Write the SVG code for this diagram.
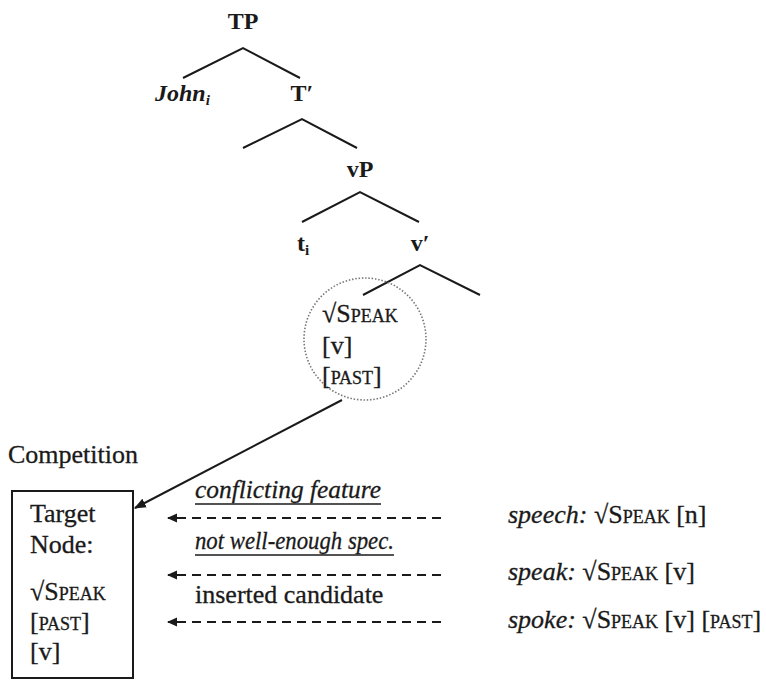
<svg xmlns="http://www.w3.org/2000/svg" width="766" height="680" viewBox="0 0 766 680">
<defs>
<style>
text{font-family:"Liberation Serif","Times New Roman",serif;font-size:26px;fill:#1a1a1a;stroke:#1a1a1a;stroke-width:0.3}
.lab{font-weight:bold;font-size:24px;stroke-width:0}
.it{font-style:italic}
.sc{font-variant:small-caps}
.br{stroke:#1a1a1a;stroke-width:2;fill:none}
.dash{stroke:#1a1a1a;stroke-width:2;stroke-dasharray:9 6;fill:none}
.ul{stroke:#1a1a1a;stroke-width:1.5}
</style>
<marker id="ah" viewBox="0 0 10 10" refX="9" refY="5" markerWidth="6" markerHeight="6" orient="auto" markerUnits="strokeWidth">
<path d="M0,1 L10,5 L0,9 Z" fill="#1a1a1a"/>
</marker>
<marker id="ahd" viewBox="0 0 10 10" refX="9" refY="5" markerWidth="5" markerHeight="5" orient="auto" markerUnits="strokeWidth">
<path d="M0,0.5 L10,5 L0,9.5 Z" fill="#1a1a1a"/>
</marker>
</defs>
<rect width="766" height="680" fill="#fff"/>

<g id="connectors">
<path class="br" d="M183,78 L243,48 L300,78"/>
<path class="br" d="M243,148 L302,119 L357,148"/>
<path class="br" d="M302,222 L360,192 L419,222"/>
<path class="br" d="M363,295 L420,265 L480,295"/>
<line x1="342" y1="400" x2="135" y2="508" stroke="#1a1a1a" stroke-width="2" marker-end="url(#ah)"/>
<line class="dash" x1="441" y1="518" x2="168" y2="518" marker-end="url(#ahd)"/>
<line class="dash" x1="441" y1="575" x2="168" y2="575" marker-end="url(#ahd)"/>
<line class="dash" x1="441" y1="622" x2="168" y2="622" marker-end="url(#ahd)"/>
</g>

<g id="TP"><text class="lab" x="243" y="29" text-anchor="middle">TP</text></g>
<g id="John"><text class="lab it" x="155" y="101">John<tspan font-size="15" dy="4">i</tspan></text></g>
<g id="Tbar"><text class="lab" x="302" y="101" text-anchor="middle">T′</text></g>
<g id="vP"><text class="lab" x="360" y="177" text-anchor="middle">vP</text></g>
<g id="ti"><text class="lab" x="297" y="251">t<tspan font-size="15" dy="4">i</tspan></text></g>
<g id="vbar"><text class="lab" x="420" y="251" text-anchor="middle">v′</text></g>

<g id="root-node">
<circle cx="365" cy="339" r="61" fill="none" stroke="#777" stroke-width="1.6" stroke-dasharray="1.5 1.8"/>
<text class="sc" x="322" y="322">√Speak</text>
<text x="322" y="354">[v]</text>
<text class="sc" x="322" y="384">[past]</text>
</g>

<g id="competition"><text x="8" y="463">Competition</text></g>

<g id="target-node">
<rect x="12" y="491" width="121" height="187" fill="none" stroke="#1a1a1a" stroke-width="2"/>
<text x="30" y="522">Target</text>
<text x="30" y="553">Node:</text>
<text class="sc" x="30" y="600">√Speak</text>
<text class="sc" x="30" y="630">[past]</text>
<text x="30" y="660">[v]</text>
</g>

<g id="labels">
<text class="it" x="195" y="498" textLength="186" lengthAdjust="spacingAndGlyphs">conflicting feature</text>
<line class="ul" x1="195" y1="504" x2="381" y2="504"/>
<text class="it" x="195" y="549" font-size="25.5" textLength="199" lengthAdjust="spacingAndGlyphs">not well-enough spec.</text>
<line class="ul" x1="195" y1="555" x2="394" y2="555"/>
<text x="195" y="603">inserted candidate</text>
</g>

<g id="candidates">
<text x="508" y="523"><tspan class="it">speech:</tspan> <tspan class="sc">√Speak</tspan> [n]</text>
<text x="508" y="580"><tspan class="it">speak:</tspan> <tspan class="sc">√Speak</tspan> [v]</text>
<text x="508" y="628"><tspan class="it">spoke:</tspan> <tspan class="sc">√Speak</tspan> [v] <tspan class="sc">[past]</tspan></text>
</g>
</svg>
